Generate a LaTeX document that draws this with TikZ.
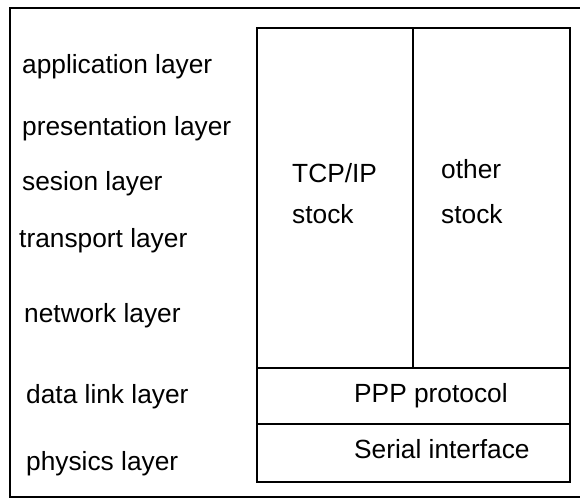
\documentclass[tikz,border=0pt]{standalone}
\usepackage{fontspec}
\setmainfont{Liberation Sans}
\begin{document}
\begin{tikzpicture}[x=1pt,y=-1pt,
  lbl/.style={anchor=base west,inner sep=0pt,font=\fontsize{26.3}{31}\selectfont},
  frame/.style={line width=2pt},
  cell/.style={line width=2.4pt}]
\useasboundingbox (0,0) rectangle (580,500);
% outer frame (right side runs off the page)
\draw[frame] (585,8) -- (10,8) -- (10,497) -- (585,497);
% inner stack
\draw[cell] (257,28) rectangle (570,482);
\draw[cell] (413,28) -- (413,368);
\draw[cell] (257,368) -- (570,368);
\draw[cell] (257,424) -- (570,424);
% layer labels
\node[lbl] (app)  at (22,74)  {application layer};
\node[lbl] (pres) at (22,135) {presentation layer};
\node[lbl] (ses)  at (22,190) {sesion layer};
\node[lbl] (tra)  at (19,247) {transport layer};
\node[lbl] (net)  at (24,322) {network layer};
\node[lbl] (dl)   at (26,403) {data link layer};
\node[lbl] (phy)  at (26,470) {physics layer};
% stack texts
\node[lbl] (tcp1) at (292,182) {TCP/IP};
\node[lbl] (tcp2) at (292,223) {stock};
\node[lbl] (oth1) at (441,178) {other};
\node[lbl] (oth2) at (441,223) {stock};
\node[lbl] (ppp)  at (354,402) {PPP protocol};
\node[lbl] (ser)  at (354,458) {Serial interface};
\end{tikzpicture}
\end{document}
